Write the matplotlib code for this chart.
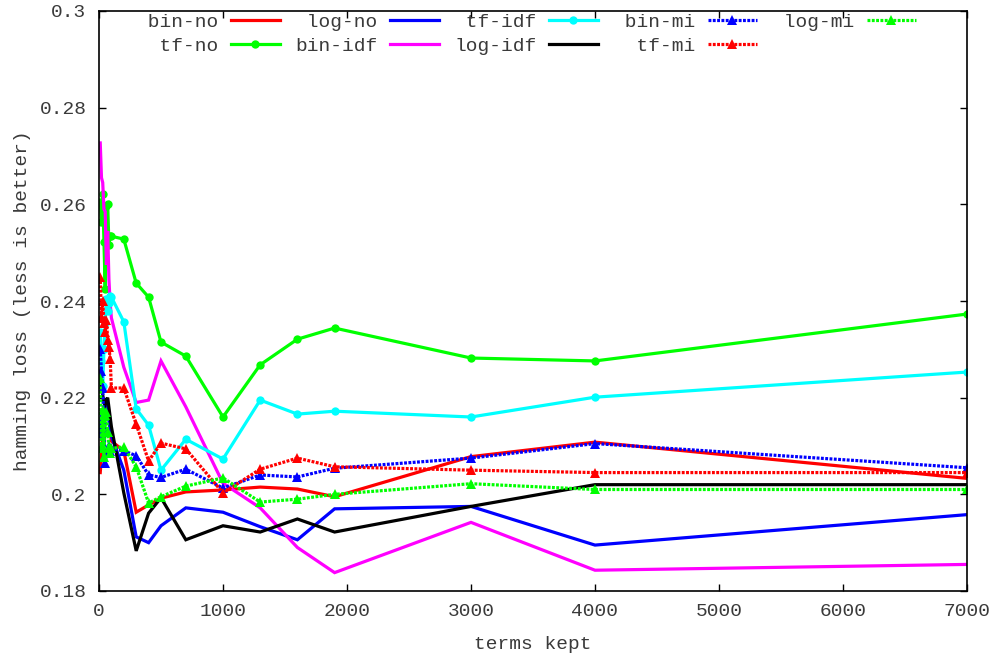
import matplotlib
matplotlib.use("Agg")
import matplotlib.pyplot as plt

# number of terms kept after feature selection
terms = [10, 20, 30, 40, 50, 60, 70, 80, 90, 100, 200, 300, 400, 500,
         700, 1000, 1300, 1600, 1900, 3000, 4000, 7000]

# hamming loss per weighting / selection scheme
bin_no = [0.2045, 0.2080, 0.2120, 0.2155, 0.2180, 0.2190, 0.2175, 0.2165, 0.2130, 0.2110,
          0.2090, 0.1963, 0.1978, 0.1992, 0.2005, 0.2009, 0.2015, 0.2011, 0.1995, 0.2078,
          0.2108, 0.2033]
tf_no = [0.2605, 0.2564, 0.2621, 0.2522, 0.2425, 0.2597, 0.2600, 0.2516, 0.2534, 0.2534,
         0.2528, 0.2437, 0.2408, 0.2315, 0.2286, 0.2160, 0.2268, 0.2321, 0.2344, 0.2282,
         0.2276, 0.2373]
log_no = [0.2120, 0.2175, 0.2160, 0.2140, 0.2185, 0.2195, 0.2180, 0.2155, 0.2130, 0.2120,
          0.2050, 0.1912, 0.1900, 0.1935, 0.1972, 0.1963, 0.1933, 0.1906, 0.1970, 0.1975,
          0.1895, 0.1958]
bin_idf = [0.2727, 0.2655, 0.2645, 0.2590, 0.2585, 0.2475, 0.2545, 0.2445, 0.2395, 0.2365,
           0.2263, 0.2190, 0.2195, 0.2276, 0.2181, 0.2023, 0.1972, 0.1890, 0.1838, 0.1942,
           0.1843, 0.1855]
tf_idf = [0.2336, 0.2275, 0.2225, 0.2300, 0.2355, 0.2405, 0.2380, 0.2395, 0.2410, 0.2408,
          0.2357, 0.2177, 0.2143, 0.2050, 0.2114, 0.2073, 0.2195, 0.2166, 0.2172, 0.2160,
          0.2201, 0.2253]
log_idf = [0.2240, 0.2220, 0.2205, 0.2190, 0.2185, 0.2195, 0.2200, 0.2180, 0.2160, 0.2140,
           0.2003, 0.1883, 0.1961, 0.1993, 0.1906, 0.1935, 0.1922, 0.1949, 0.1922, 0.1975,
           0.2020, 0.2020]
bin_mi = [0.2300, 0.2255, 0.2220, 0.2140, 0.2065, 0.2085, 0.2095, 0.2100, 0.2090, 0.2095,
          0.2090, 0.2080, 0.2040, 0.2035, 0.2052, 0.2013, 0.2040, 0.2036, 0.2054, 0.2075,
          0.2105, 0.2055]
tf_mi = [0.2450, 0.2365, 0.2400, 0.2355, 0.2335, 0.2360, 0.2320, 0.2305, 0.2280, 0.2220,
         0.2220, 0.2145, 0.2069, 0.2106, 0.2094, 0.2003, 0.2052, 0.2075, 0.2057, 0.2050,
         0.2045, 0.2045]
log_mi = [0.2241, 0.2096, 0.2175, 0.2077, 0.2165, 0.2170, 0.2129, 0.2098, 0.2085, 0.2095,
          0.2098, 0.2057, 0.1982, 0.1995, 0.2017, 0.2034, 0.1984, 0.1990, 0.2000, 0.2022,
          0.2010, 0.2010]

x_ticks = [0, 1000, 2000, 3000, 4000, 5000, 6000, 7000]
y_ticks = [0.18, 0.2, 0.22, 0.24, 0.26, 0.28, 0.3]
y_tick_labels = ["0.18", "0.2", "0.22", "0.24", "0.26", "0.28", "0.3"]

FONT = "Liberation Mono"
TXT = "#3a3a3a"
plt.rcParams["font.family"] = [FONT, "DejaVu Sans"]

fig = plt.figure(figsize=(9.92, 6.55), dpi=100)
ax = fig.add_axes([99 / 992, 1 - 591 / 655, 868 / 992, 580 / 655])

lw = 2.3
dot = (0, (0.9, 0.45))
series = [
    ("bin-no", bin_no, dict(color="#ff0000", ls="-")),
    ("tf-no", tf_no, dict(color="#00ff00", ls="-", marker="o", ms=6)),
    ("log-no", log_no, dict(color="#0000ff", ls="-")),
    ("bin-idf", bin_idf, dict(color="#ff00ff", ls="-")),
    ("tf-idf", tf_idf, dict(color="#00ffff", ls="-", marker="o", ms=6)),
    ("log-idf", log_idf, dict(color="#000000", ls="-")),
    ("bin-mi", bin_mi, dict(color="#0000ff", ls=dot, marker="^", ms=7.5)),
    ("tf-mi", tf_mi, dict(color="#ff0000", ls=dot, marker="^", ms=7.5)),
    ("log-mi", log_mi, dict(color="#00ff00", ls=dot, marker="^", ms=7.5)),
]
for name, vals, style in series:
    ax.plot(terms, vals, lw=lw, label=name.rjust(7), markeredgewidth=0,
            solid_joinstyle="miter", **style)

ax.set_xlim(0, 7000)
ax.set_ylim(0.18, 0.3)
ax.set_xticks(x_ticks)
ax.set_xticklabels([str(v) for v in x_ticks])
ax.set_yticks(y_ticks)
ax.set_yticklabels(y_tick_labels)
ax.tick_params(direction="in", length=5, width=1, top=True, right=True,
               labelsize=14, labelcolor=TXT, pad=9)
ax.tick_params(axis="x", pad=9)
for sp in ax.spines.values():
    sp.set_linewidth(1.2)
    sp.set_color("#000000")

ax.set_xlabel("terms kept", fontsize=14, color=TXT, labelpad=11)
ax.set_ylabel("hamming loss (less is better)", fontsize=14, color=TXT, labelpad=6)

leg = ax.legend(ncol=5, markerfirst=False, frameon=False, loc="upper left",
                bbox_to_anchor=(136 / 992, 1 - 13 / 655), bbox_transform=fig.transFigure,
                prop={"family": FONT, "size": 14}, handlelength=2.5, handletextpad=0.65,
                columnspacing=0.8, labelspacing=0.36, borderpad=0, borderaxespad=0)
for t in leg.get_texts():
    t.set_color(TXT)

fig.savefig("out.png", dpi=100)
